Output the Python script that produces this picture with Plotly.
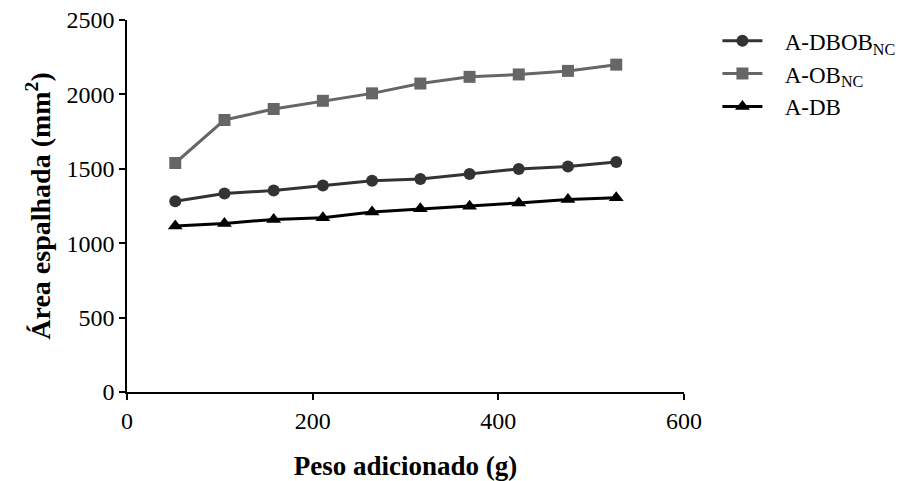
import plotly.graph_objects as go

# Added weight (g) and spread area (mm²) for each formulation
peso = [52, 105, 158, 211, 264, 316, 369, 422, 475, 527]
a_dbob_nc = [1282, 1334, 1354, 1387, 1420, 1432, 1465, 1499, 1516, 1545]
a_ob_nc = [1539, 1828, 1902, 1957, 2007, 2073, 2118, 2134, 2158, 2200]
a_db = [1115, 1133, 1160, 1171, 1209, 1231, 1249, 1271, 1293, 1305]

# Non-breaking spaces keep a gap between legend symbol and label
GAP = "\u00a0\u00a0\u00a0"
series = [
    (GAP + "A-DBOB<sub>NC</sub>", a_dbob_nc, "#333333", "circle", 12),
    (GAP + "A-OB<sub>NC</sub>", a_ob_nc, "#666666", "square", 12),
    (GAP + "A-DB", a_db, "#000000", "triangle-up", 13),
]

fig = go.Figure()
for name, vals, color, symbol, size in series:
    fig.add_trace(go.Scatter(
        x=peso, y=vals, name=name, mode="lines+markers",
        line=dict(color=color, width=3),
        marker=dict(symbol=symbol, size=size, color=color),
    ))

font = dict(family='"Liberation Serif", "Times New Roman", serif', color="#000000")

fig.update_layout(
    width=907, height=481,
    margin=dict(l=127, r=223, t=20, b=89, autoexpand=False),
    paper_bgcolor="white", plot_bgcolor="white",
    font=dict(size=24, **font),
    showlegend=True,
    legend=dict(
        x=1.06, y=1.002, xanchor="left", yanchor="top",
        font=dict(size=23, **font),
        tracegroupgap=0, itemwidth=40,
        bgcolor="rgba(0,0,0,0)",
    ),
    xaxis=dict(
        range=[0, 600], tickvals=[0, 200, 400, 600],
        showline=True, linecolor="#000000", linewidth=1.5,
        ticks="outside", ticklen=6, tickwidth=1.5, tickcolor="#000000",
        showgrid=False, zeroline=False,
        tickfont=dict(size=24, **font),
        title=dict(text="<b>Peso adicionado (g)</b>", font=dict(size=27, **font), standoff=28),
    ),
    yaxis=dict(
        range=[0, 2500], tickvals=[0, 500, 1000, 1500, 2000, 2500],
        showline=True, linecolor="#000000", linewidth=1.5,
        ticks="outside", ticklen=6, tickwidth=1.5, tickcolor="#000000",
        showgrid=False, zeroline=False,
        tickfont=dict(size=24, **font),
        title=dict(text="<b>Área espalhada (mm<sup>2</sup>)</b>", font=dict(size=28, **font), standoff=8),
    ),
)

fig.write_html("out.html")
